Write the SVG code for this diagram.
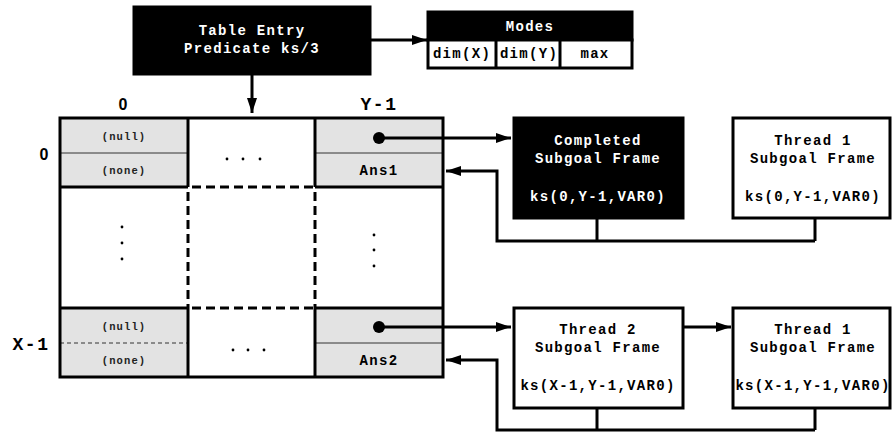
<svg xmlns="http://www.w3.org/2000/svg" width="893" height="432" viewBox="0 0 893 432">
  <style>
    .mono { font-family: "Liberation Mono", "Courier New", monospace; font-weight: bold; }
    .t14 { font-size: 14px; letter-spacing: 1.3px; text-anchor: middle; }
    .t10 { font-size: 10.5px; letter-spacing: 1.1px; text-anchor: middle; fill: #222; }
    .big { font-size: 18px; letter-spacing: 1.5px; text-anchor: middle; }
    .sans { font-family: "Liberation Sans", Arial, sans-serif; font-size: 16px; text-anchor: middle; }
    .white { fill: #fff; }
    .box { stroke: #000; stroke-width: 3; }
    .cell { fill: #e3e3e3; }
    .line { fill: none; stroke: #000; stroke-width: 3; }
    .dash { fill: none; stroke: #000; stroke-width: 3; stroke-dasharray: 9 5; }
    .thin { stroke: #333; stroke-width: 1; }
  </style>
  <defs>
    <marker id="arrow" markerUnits="userSpaceOnUse" markerWidth="16" markerHeight="12" refX="15" refY="6" orient="auto">
      <path d="M0,1 L15,6 L0,11 Z" fill="#000"/>
    </marker>
  </defs>

  <rect width="893" height="432" fill="#fff"/>

  <!-- Table entry -->
  <g id="table-entry">
    <rect class="box" x="134" y="7" width="236" height="67" fill="#000"/>
    <text class="mono t14 white" x="252" y="35">Table Entry</text>
    <text class="mono t14 white" x="252" y="53">Predicate ks/3</text>
  </g>

  <!-- Modes record -->
  <g id="modes">
    <rect class="box" x="428" y="12" width="204" height="28" fill="#000"/>
    <rect class="box" x="428" y="40" width="204" height="28" fill="#fff"/>
    <line class="box" x1="496" y1="40" x2="496" y2="68"/>
    <line class="box" x1="560" y1="40" x2="560" y2="68"/>
    <text class="mono t14 white" x="530" y="31">Modes</text>
    <text class="mono t14" x="462" y="58">dim(X)</text>
    <text class="mono t14" x="529" y="58">dim(Y)</text>
    <text class="mono t14" x="595" y="58">max</text>
  </g>

  <!-- Answer table grid -->
  <g id="grid">
    <rect class="cell" x="60" y="118" width="128" height="69"/>
    <rect class="cell" x="315" y="118" width="128" height="69"/>
    <rect class="cell" x="60" y="308" width="128" height="69"/>
    <rect class="cell" x="315" y="308" width="128" height="69"/>
    <line class="thin" x1="60" y1="153" x2="188" y2="153"/>
    <line class="thin" x1="315" y1="153" x2="443" y2="153"/>
    <line class="thin" x1="60" y1="343" x2="188" y2="343" stroke-dasharray="4 3"/>
    <line class="thin" x1="315" y1="343" x2="443" y2="343"/>
    <rect class="line" x="60" y="118" width="383" height="259"/>
    <line class="line" x1="188" y1="118" x2="188" y2="187"/>
    <line class="line" x1="315" y1="118" x2="315" y2="187"/>
    <line class="line" x1="60" y1="187" x2="188" y2="187"/>
    <line class="line" x1="315" y1="187" x2="443" y2="187"/>
    <line class="line" x1="188" y1="308" x2="188" y2="377"/>
    <line class="line" x1="315" y1="308" x2="315" y2="377"/>
    <line class="line" x1="60" y1="308" x2="188" y2="308"/>
    <line class="line" x1="315" y1="308" x2="443" y2="308"/>
    <line class="dash" x1="192" y1="187" x2="315" y2="187"/>
    <line class="dash" x1="192" y1="308" x2="315" y2="308"/>
    <line class="dash" x1="188" y1="192" x2="188" y2="308"/>
    <line class="dash" x1="315" y1="192" x2="315" y2="308"/>

    <text class="mono t10" x="124" y="140">(null)</text>
    <text class="mono t10" x="124" y="174">(none)</text>
    <text class="mono t10" x="124" y="330">(null)</text>
    <text class="mono t10" x="124" y="364">(none)</text>
    <text class="mono t14" x="379" y="175">Ans1</text>
    <text class="mono t14" x="379" y="365">Ans2</text>

    <g fill="#000">
      <circle cx="227" cy="159" r="1.4"/>
      <circle cx="243" cy="159" r="1.4"/>
      <circle cx="260" cy="159" r="1.4"/>
      <circle cx="233" cy="350" r="1.4"/>
      <circle cx="248" cy="350" r="1.4"/>
      <circle cx="264" cy="350" r="1.4"/>
      <circle cx="122" cy="227" r="1.4"/>
      <circle cx="122" cy="243" r="1.4"/>
      <circle cx="122" cy="259" r="1.4"/>
      <circle cx="374" cy="235" r="1.4"/>
      <circle cx="374" cy="250" r="1.4"/>
      <circle cx="374" cy="266" r="1.4"/>
      <circle cx="379" cy="138" r="6"/>
      <circle cx="379" cy="327" r="6"/>
    </g>

    <text class="sans" font-weight="bold" x="123" y="110">0</text>
    <text class="mono big" x="379" y="110">Y-1</text>
    <text class="sans" font-weight="bold" x="44" y="160">0</text>
    <text class="mono big" x="31" y="350">X-1</text>
  </g>

  <!-- Subgoal frames -->
  <g id="completed-frame">
    <rect class="box" x="514" y="118" width="169" height="100" fill="#000"/>
    <text class="mono t14 white" x="598" y="145">Completed</text>
    <text class="mono t14 white" x="598" y="163">Subgoal Frame</text>
    <text class="mono t14 white" x="598" y="201">ks(0,Y-1,VAR0)</text>
  </g>
  <g id="thread1-frame-top">
    <rect class="box" x="733" y="118" width="157" height="100" fill="#fff"/>
    <text class="mono t14" x="813" y="145">Thread 1</text>
    <text class="mono t14" x="813" y="163">Subgoal Frame</text>
    <text class="mono t14" x="813" y="201">ks(0,Y-1,VAR0)</text>
  </g>
  <g id="thread2-frame">
    <rect class="box" x="514" y="308" width="169" height="100" fill="#fff"/>
    <text class="mono t14" x="598" y="334">Thread 2</text>
    <text class="mono t14" x="598" y="352">Subgoal Frame</text>
    <text class="mono t14" x="598" y="390">ks(X-1,Y-1,VAR0)</text>
  </g>
  <g id="thread1-frame-bottom">
    <rect class="box" x="733" y="308" width="157" height="100" fill="#fff"/>
    <text class="mono t14" x="813" y="334">Thread 1</text>
    <text class="mono t14" x="813" y="352">Subgoal Frame</text>
    <text class="mono t14" x="813" y="390">ks(X-1,Y-1,VAR0)</text>
  </g>

  <!-- Connectors -->
  <g id="connectors" class="line">
    <path d="M370,40 H427" marker-end="url(#arrow)"/>
    <path d="M252,74 V113" marker-end="url(#arrow)"/>
    <path d="M379,138 H511" marker-end="url(#arrow)"/>
    <path d="M597,218 V241 M815,218 V241 M815,241 H497 V171 H446" marker-end="url(#arrow)"/>
    <path d="M379,327 H511" marker-end="url(#arrow)"/>
    <path d="M683,327 H731" marker-end="url(#arrow)"/>
    <path d="M597,408 V430 M815,408 V430 M815,430 H497 V360 H446" marker-end="url(#arrow)"/>
  </g>
</svg>
